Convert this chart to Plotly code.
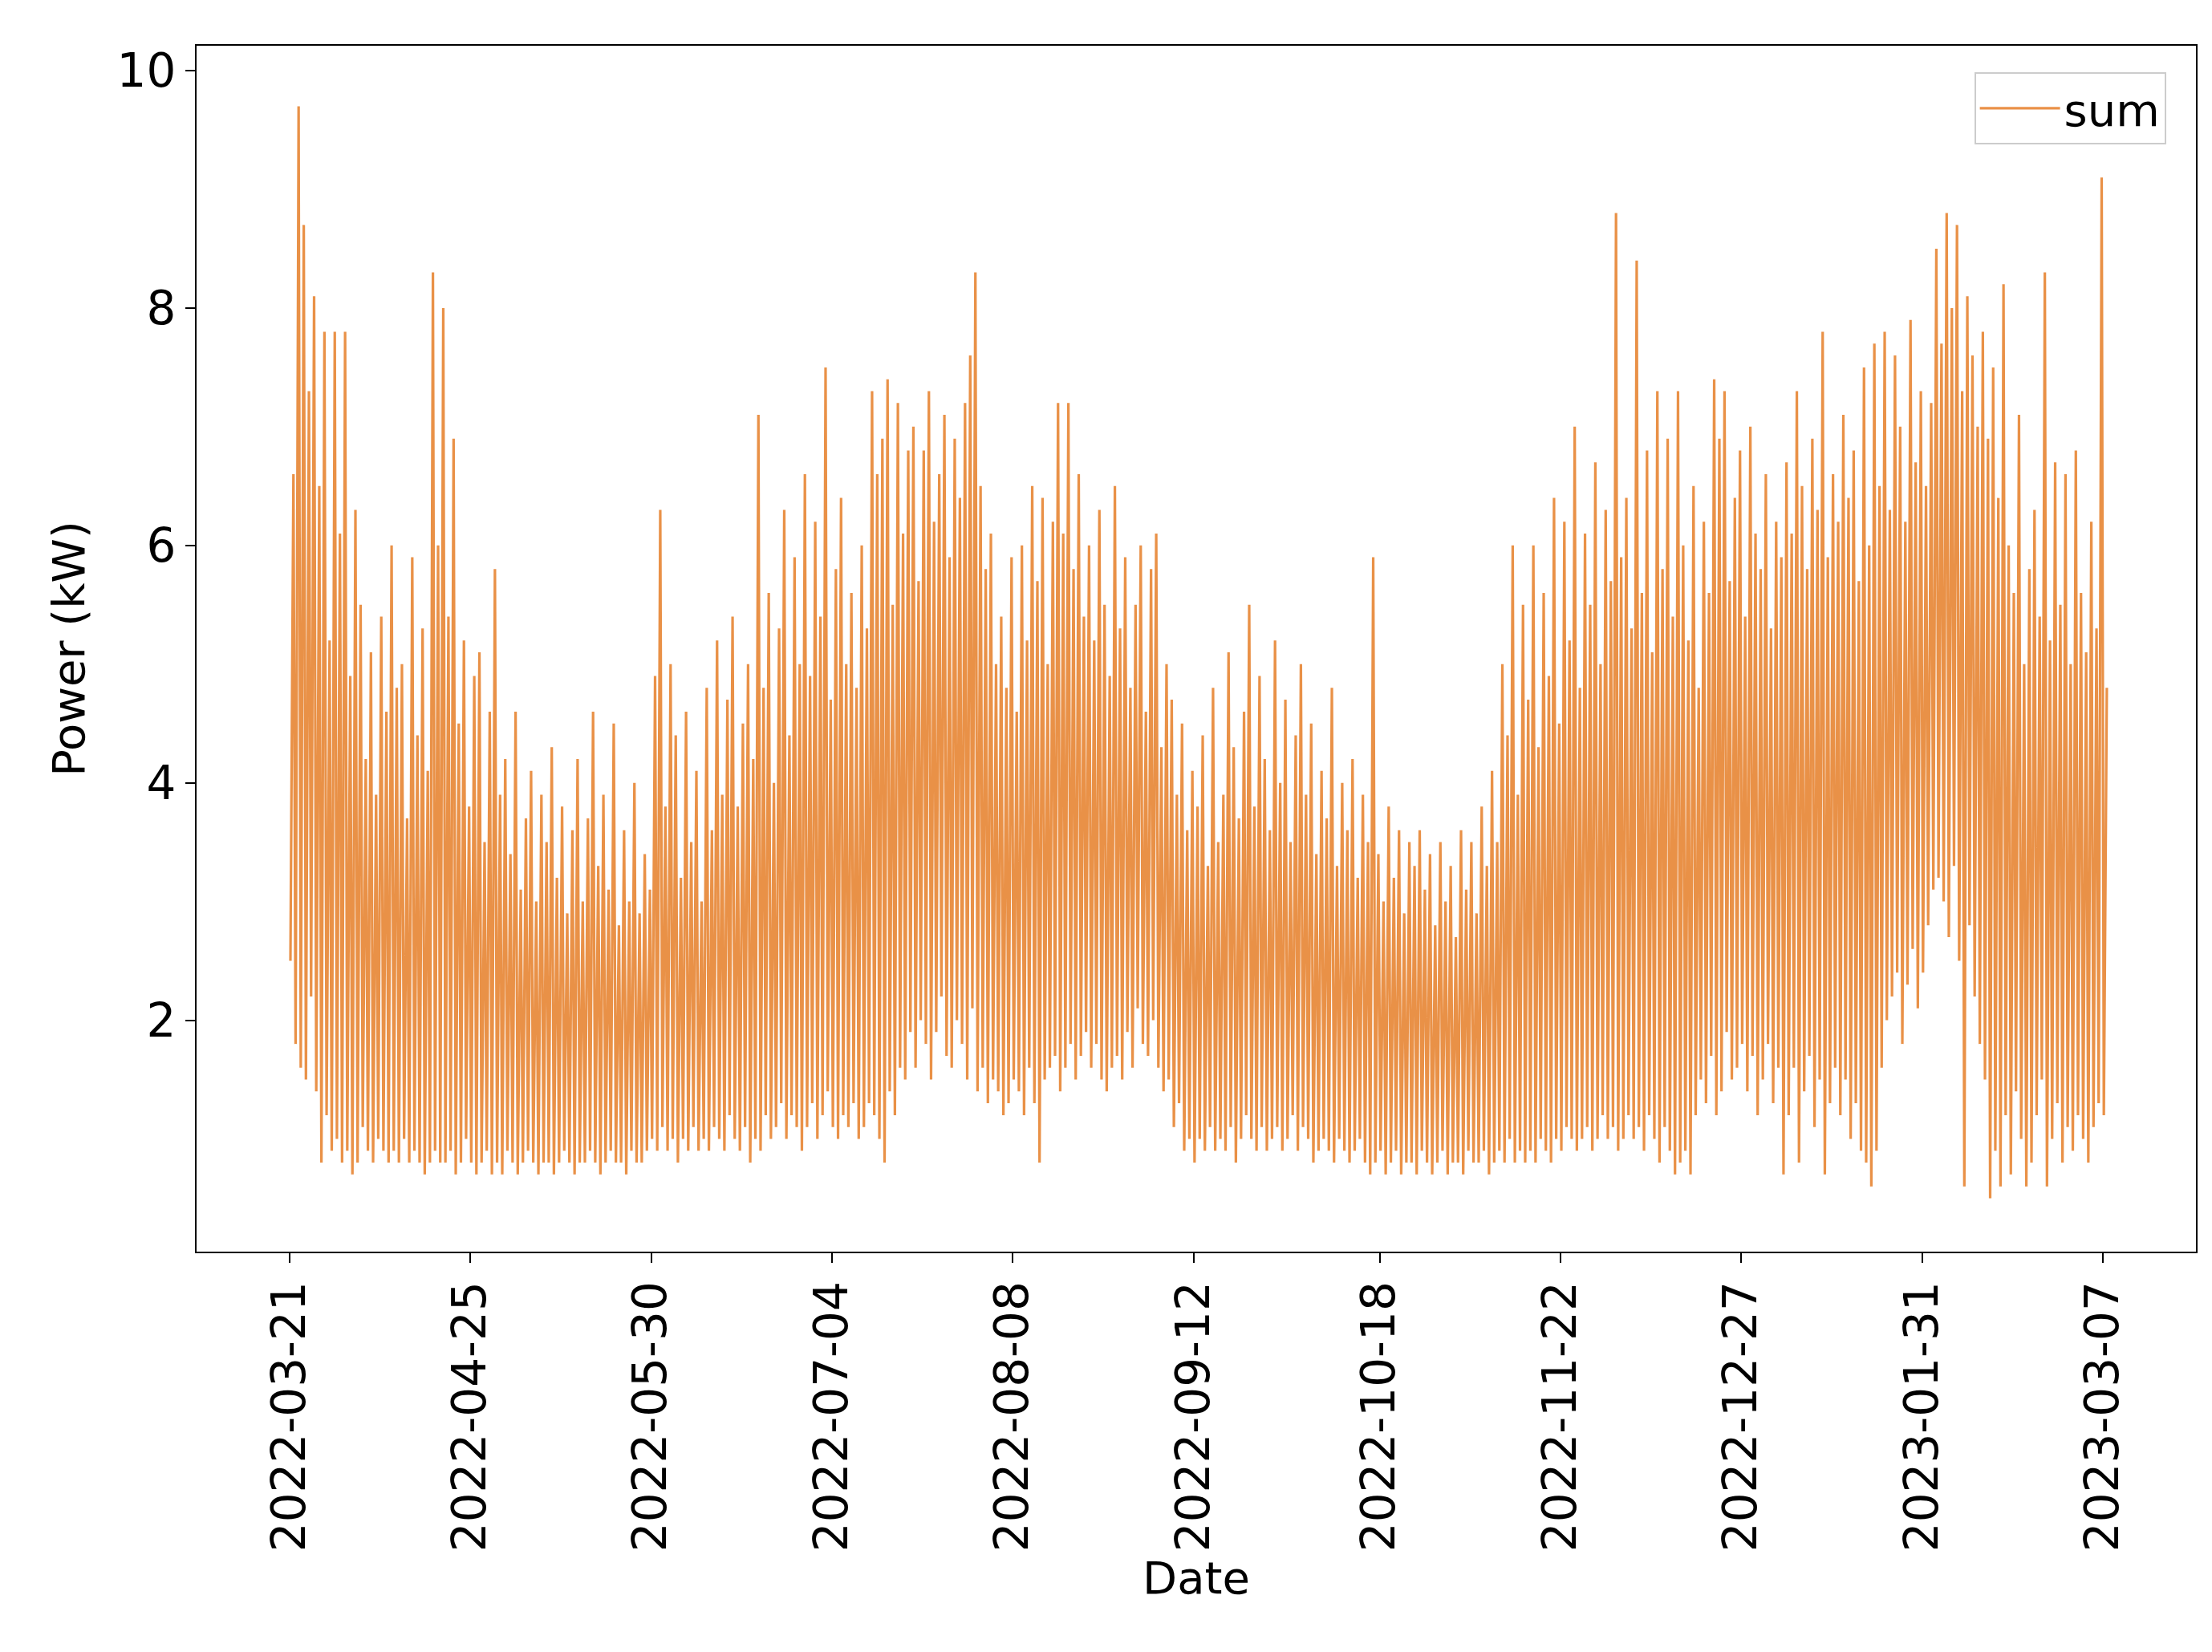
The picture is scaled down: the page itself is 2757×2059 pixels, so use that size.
import pandas as pd
import plotly.graph_objects as go

# Daily envelope of the summed power (kW), one value per day
start_date = "2022-03-21"
daily_peak = [
    6.6, 9.7, 8.7, 7.3, 8.1, 6.5, 7.8, 5.2, 7.8, 6.1,
    7.8, 4.9, 6.3, 5.5, 4.2, 5.1, 3.9, 5.4, 4.6, 6.0,
    4.8, 5.0, 3.7, 5.9, 4.4, 5.3, 4.1, 8.3, 6.0, 8.0,
    5.4, 6.9, 4.5, 5.2, 3.8, 4.9, 5.1, 3.5, 4.6, 5.8,
    3.9, 4.2, 3.4, 4.6, 3.1, 3.7, 4.1, 3.0, 3.9, 3.5,
    4.3, 3.2, 3.8, 2.9, 3.6, 4.2, 3.0, 3.7, 4.6, 3.3,
    3.9, 3.1, 4.5, 2.8, 3.6, 3.0, 4.0, 2.9, 3.4, 3.1,
    4.9, 6.3, 3.8, 5.0, 4.4, 3.2, 4.6, 3.5, 4.1, 3.0,
    4.8, 3.6, 5.2, 3.9, 4.7, 5.4, 3.8, 4.5, 5.0, 4.2,
    7.1, 4.8, 5.6, 4.0, 5.3, 6.3, 4.4, 5.9, 5.0, 6.6,
    4.9, 6.2, 5.4, 7.5, 4.7, 5.8, 6.4, 5.0, 5.6, 4.8,
    6.0, 5.3, 7.3, 6.6, 6.9, 7.4, 5.5, 7.2, 6.1, 6.8,
    7.0, 5.7, 6.8, 7.3, 6.2, 6.6, 7.1, 5.9, 6.9, 6.4,
    7.2, 7.6, 8.3, 6.5, 5.8, 6.1, 5.0, 5.4, 4.8, 5.9,
    4.6, 6.0, 5.2, 6.5, 5.7, 6.4, 5.0, 6.2, 7.2, 6.1,
    7.2, 5.8, 6.6, 5.4, 6.0, 5.2, 6.3, 5.5, 4.9, 6.5,
    5.3, 5.9, 4.8, 5.5, 6.0, 4.6, 5.8, 6.1, 4.3, 5.0,
    4.7, 3.9, 4.5, 3.6, 4.1, 3.8, 4.4, 3.3, 4.8, 3.5,
    3.9, 5.1, 4.3, 3.7, 4.6, 5.5, 3.8, 4.9, 4.2, 3.6,
    5.2, 4.0, 4.7, 3.5, 4.4, 5.0, 3.9, 4.5, 3.4, 4.1,
    3.7, 4.8, 3.3, 4.0, 3.6, 4.2, 3.2, 3.9, 3.5, 5.9,
    3.4, 3.0, 3.8, 3.2, 3.6, 2.9, 3.5, 3.3, 3.6, 3.1,
    3.4, 2.8, 3.5, 3.0, 3.3, 2.7, 3.6, 3.1, 3.5, 2.9,
    3.8, 3.3, 4.1, 3.5, 5.0, 4.4, 6.0, 3.9, 5.5, 4.7,
    6.0, 4.3, 5.6, 4.9, 6.4, 4.5, 6.2, 5.2, 7.0, 4.8,
    6.1, 5.5, 6.7, 5.0, 6.3, 5.7, 8.8, 5.9, 6.4, 5.3,
    8.4, 5.6, 6.8, 5.1, 7.3, 5.8, 6.9, 5.4, 7.3, 6.0,
    5.2, 6.5, 4.8, 6.2, 5.6, 7.4, 6.9, 7.3, 5.7, 6.4,
    6.8, 5.4, 7.0, 6.1, 5.8, 6.6, 5.3, 6.2, 5.9, 6.7,
    6.1, 7.3, 6.5, 5.8, 6.9, 6.3, 7.8, 5.9, 6.6, 6.2,
    7.1, 6.4, 6.8, 5.7, 7.5, 6.0, 7.7, 6.5, 7.8, 6.3,
    7.6, 7.0, 6.2, 7.9, 6.7, 7.3, 6.5, 7.2, 8.5, 7.7,
    8.8, 8.0, 8.7, 7.3, 8.1, 7.6, 7.0, 7.8, 6.9, 7.5,
    6.4, 8.2, 6.0, 5.6, 7.1, 5.0, 5.8, 6.3, 5.4, 8.3,
    5.2, 6.7, 5.5, 6.6, 5.0, 6.8, 5.6, 5.1, 6.2, 5.3,
    9.1, 4.8,
]
daily_trough = [
    2.5, 1.8, 1.6, 1.5, 2.2, 1.4, 0.8, 1.2, 0.9, 1.0,
    0.8, 0.9, 0.7, 0.8, 1.1, 0.9, 0.8, 1.0, 0.9, 0.8,
    0.9, 0.8, 1.0, 0.8, 0.9, 0.8, 0.7, 0.8, 0.9, 0.8,
    0.8, 0.9, 0.7, 0.8, 1.0, 0.8, 0.7, 0.8, 0.9, 0.7,
    0.8, 0.7, 0.9, 0.8, 0.7, 0.8, 0.9, 0.8, 0.7, 0.8,
    0.8, 0.7, 0.8, 0.9, 0.8, 0.7, 0.8, 0.8, 0.9, 0.8,
    0.7, 0.8, 0.9, 0.8, 0.8, 0.7, 0.9, 0.8, 0.8, 0.9,
    1.0, 0.9, 1.1, 0.9, 1.0, 0.8, 1.0, 0.9, 1.1, 0.9,
    1.0, 0.9, 1.1, 1.0, 0.9, 1.2, 1.0, 0.9, 1.1, 0.8,
    1.0, 0.9, 1.2, 1.0, 1.1, 1.3, 1.0, 1.2, 1.1, 0.9,
    1.1, 1.3, 1.0, 1.2, 1.4, 1.1, 1.0, 1.2, 1.1, 1.3,
    1.0, 1.1, 1.3, 1.2, 1.0, 0.8, 1.4, 1.2, 1.6, 1.5,
    1.9, 1.6, 2.0, 1.8, 1.5, 1.9, 2.2, 1.7, 1.6, 2.0,
    1.8, 1.5, 2.1, 1.4, 1.6, 1.3, 1.5, 1.4, 1.2, 1.3,
    1.5, 1.4, 1.2, 1.6, 1.3, 0.8, 1.5, 1.6, 1.7, 1.4,
    1.6, 1.8, 1.5, 1.7, 1.9, 1.6, 1.8, 1.5, 1.4, 1.6,
    1.7, 1.5, 1.9, 1.6, 2.1, 1.8, 1.7, 2.0, 1.6, 1.4,
    1.5, 1.1, 1.3, 0.9, 1.0, 0.8, 1.0, 0.9, 1.1, 0.9,
    1.0, 0.9, 1.1, 0.8, 1.0, 1.2, 1.0, 0.9, 1.1, 0.9,
    1.0, 1.1, 0.9, 1.0, 1.2, 0.9, 1.1, 1.0, 0.8, 0.9,
    1.0, 0.9, 0.8, 1.0, 0.9, 0.8, 0.9, 1.0, 0.8, 0.7,
    0.8, 0.9, 0.7, 0.8, 0.9, 0.7, 0.8, 0.8, 0.7, 0.9,
    0.8, 0.7, 0.8, 0.9, 0.7, 0.8, 0.8, 0.7, 0.9, 0.8,
    0.8, 0.9, 0.7, 0.8, 0.9, 0.8, 1.0, 0.8, 0.9, 0.8,
    0.9, 0.8, 1.0, 0.9, 0.8, 1.0, 0.9, 1.1, 1.0, 0.9,
    1.0, 1.1, 0.9, 1.0, 1.2, 1.0, 1.1, 0.9, 1.0, 1.2,
    1.0, 1.1, 0.9, 1.2, 1.0, 0.8, 1.1, 0.9, 0.7, 0.8,
    0.9, 0.7, 1.2, 1.5, 1.3, 1.7, 1.2, 1.4, 1.9, 1.5,
    1.6, 1.8, 1.4, 1.7, 1.2, 1.5, 1.8, 1.3, 1.6, 0.7,
    1.2, 1.6, 0.8, 1.4, 1.7, 1.1, 1.5, 0.7, 1.3, 1.6,
    1.2, 1.5, 1.0, 1.3, 0.9, 0.8, 0.6, 0.9, 1.6, 2.0,
    2.2, 2.4, 1.8, 2.3, 2.6, 2.1, 2.4, 2.8, 3.1, 3.2,
    3.0, 2.7, 3.3, 2.5, 0.6, 2.8, 2.2, 1.8, 1.5, 0.5,
    0.9, 0.6, 1.2, 0.7, 1.4, 1.0, 0.6, 0.8, 1.2, 1.5,
    0.6, 1.0, 1.3, 0.8, 1.1, 0.9, 1.2, 1.0, 0.8, 1.1,
    1.3, 1.2,
]
tick_labels = ["2022-03-21", "2022-04-25", "2022-05-30", "2022-07-04", "2022-08-08",
               "2022-09-12", "2022-10-18", "2022-11-22", "2022-12-27", "2023-01-31",
               "2023-03-07"]

# interleave: night trough then evening peak for every day
days = pd.date_range(start_date, periods=len(daily_peak), freq="D")
xs, ys = [], []
for d, lo, hi in zip(days, daily_trough, daily_peak):
    xs += [d + pd.Timedelta(hours=4), d + pd.Timedelta(hours=18)]
    ys += [lo, hi]

fig = go.Figure()
fig.add_trace(go.Scatter(
    x=xs, y=ys, mode="lines", name="sum",
    line=dict(color="rgb(230,126,40)", width=3.2),
    opacity=0.85,
))

axis_common = dict(
    showgrid=False, zeroline=False, showline=True, linecolor="black", linewidth=2,
    mirror=True, ticks="outside", ticklen=12, tickwidth=2, tickcolor="black",
    tickfont=dict(size=58, color="black"),
)
fig.update_xaxes(
    **axis_common,
    type="date", range=["2022-03-03", "2023-03-25"],
    tickvals=tick_labels, ticktext=tick_labels, tickangle=-90,
    title=dict(text="Date", font=dict(size=56, color="black"), standoff=10),
)
fig.update_yaxes(
    **axis_common,
    range=[0.05, 10.21], tickvals=[2, 4, 6, 8, 10],
    title=dict(text="Power (kW)", font=dict(size=56, color="black"), standoff=22),
)
fig.update_layout(
    width=2757, height=2059,
    paper_bgcolor="white", plot_bgcolor="white",
    font=dict(family="DejaVu Sans", color="black"),
    margin=dict(l=237, r=28, t=49, b=507),
    showlegend=True,
    legend=dict(x=0.985, y=0.978, xanchor="right", yanchor="top",
                bordercolor="#cccccc", borderwidth=2, bgcolor="white",
                font=dict(size=56), itemwidth=100),
)

fig.write_html("out.html")
